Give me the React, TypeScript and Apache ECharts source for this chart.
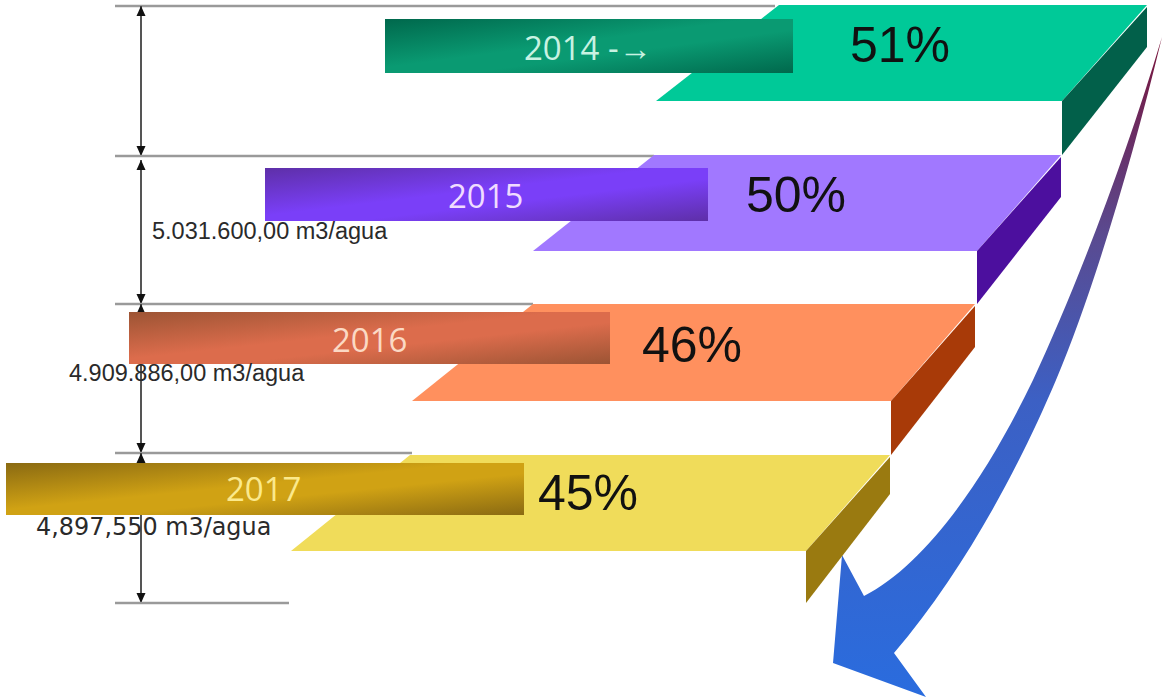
import React, { useEffect, useRef } from "react";
import * as echarts from "echarts";

// ---- chart values ----
const years = ["2014 -→", "2015", "2016", "2017"];
const percents = [51, 50, 46, 45];
const volumes = ["", "5.031.600,00 m3/agua", "4.909.886,00 m3/agua", "4,897,550 m3/agua"];

// ---- layout, in page pixels, resolved through hidden axes ----
const plateTop = [5, 155, 304, 455];
const plateBottom = [101, 251, 401, 551];
const sideLowBack = [47, 197, 347, 494];
const sideLowFront = [155, 304, 455, 603];
const plateRight = [1147, 1061, 975, 890];
const plateFrontRight = [1062, 977, 891, 806];
const plateTopLeft = [779, 654, 533, 410];
const plateBottomLeft = [656, 533, 412, 291];
const barX0 = [385, 265, 129, 6];
const barX1 = [793, 708, 610, 524];
const barY0 = [19, 168, 312, 463];
const barY1 = [73, 221, 364, 515];
const yearX = [524, 448, 332, 226];
const yearY = [47, 195, 339, 488];
const pctX = [850, 746, 642, 538];
const pctY = [45, 195, 345, 493];
const volX = [0, 152, 69, 36];
const volY = [0, 231, 373, 527];
const volFont = ["", "Liberation Sans", "Liberation Sans", "DejaVu Sans"];
const volSize = [0, 23.5, 23.5, 23.9];

const ruleY = [6, 156, 304, 453, 603];
const ruleEnd = [775, 654, 533, 412, 289];
const ruleX0 = 115;
const dimX = 141;
const dimSpans = [[6, 156], [160, 304], [304, 453], [453, 603]];

const topColor = ["#00C998", "#A178FF", "#FF905E", "#F0DC5A"];
const sideColor = ["#02604A", "#4C0F9E", "#A83A08", "#9A7A10"];
const barDark = ["#00684C", "#5E2FA8", "#9C5434", "#8A6A12"];
const barLight = ["#0A9A72", "#7A3FF8", "#DC6C4C", "#D0A214"];
const yearColor = ["#C8F2E2", "#F0DCFF", "#FBD9C4", "#FBE98C"];

// Curved sweep arrow: outer edge, head, inner edge.
const sweepOuter = [[1162, 37], [1130, 170], [1090, 300], [1056, 380], [1020, 465], [965, 570], [894, 653]];
const sweepHead = [[926, 697], [833, 663], [842, 555], [864, 596]];
const sweepInner = [[925, 565], [985, 480], [1033, 380], [1075, 290], [1125, 160], [1162, 37]];

echarts.graphic.registerShape(
  "sweepArrow",
  (echarts.graphic as any).extendShape({
    shape: { outer: [], head: [], inner: [] },
    buildPath(ctx: any, shape: any) {
      const { outer, head, inner } = shape;
      if (!outer.length) return;
      ctx.moveTo(outer[0][0], outer[0][1]);
      for (let k = 1; k + 2 < outer.length; k += 3) {
        ctx.bezierCurveTo(outer[k][0], outer[k][1], outer[k + 1][0], outer[k + 1][1], outer[k + 2][0], outer[k + 2][1]);
      }
      for (const p of head) ctx.lineTo(p[0], p[1]);
      for (let k = 0; k + 2 < inner.length; k += 3) {
        ctx.bezierCurveTo(inner[k][0], inner[k][1], inner[k + 1][0], inner[k + 1][1], inner[k + 2][0], inner[k + 2][1]);
      }
      ctx.closePath();
    },
  })
);

function guides(params: any, api: any) {
  const c = (x: number, y: number) => api.coord([x, y]);
  const i = params.dataIndex;
  const children: any[] = [];
  const rule = { stroke: "#9A9A9A", lineWidth: 2.4 };
  if (i < ruleY.length) {
    const a = c(ruleX0, ruleY[i]);
    const b = c(ruleEnd[i], ruleY[i]);
    children.push({ type: "line", shape: { x1: a[0], y1: a[1], x2: b[0], y2: b[1] }, style: rule });
  }
  if (i < dimSpans.length) {
    const [y0, y1] = dimSpans[i];
    const a = c(dimX, y0);
    const b = c(dimX, y1);
    children.push({ type: "line", shape: { x1: a[0], y1: a[1], x2: b[0], y2: b[1] }, style: { stroke: "#555", lineWidth: 2 } });
    children.push({ type: "polygon", shape: { points: [c(dimX, y0), c(dimX - 4.5, y0 + 10), c(dimX + 4.5, y0 + 10)] }, style: { fill: "#111" } });
    children.push({ type: "polygon", shape: { points: [c(dimX, y1), c(dimX - 4.5, y1 - 10), c(dimX + 4.5, y1 - 10)] }, style: { fill: "#111" } });
  }
  return { type: "group", children };
}

function step(params: any, api: any) {
  const c = (x: number, y: number) => api.coord([x, y]);
  const i = params.dataIndex;
  return {
    type: "group",
    children: [
      {
        type: "polygon",
        shape: { points: [c(plateTopLeft[i], plateTop[i]), c(plateRight[i], plateTop[i]), c(plateFrontRight[i], plateBottom[i]), c(plateBottomLeft[i], plateBottom[i])] },
        style: { fill: topColor[i] },
      },
      {
        type: "polygon",
        shape: { points: [c(plateRight[i], plateTop[i] + 2), c(plateRight[i], sideLowBack[i]), c(plateFrontRight[i], sideLowFront[i]), c(plateFrontRight[i], plateBottom[i])] },
        style: { fill: sideColor[i] },
      },
      {
        type: "rect",
        shape: { x: c(barX0[i], 0)[0], y: c(0, barY0[i])[1], width: barX1[i] - barX0[i], height: barY1[i] - barY0[i] },
        style: {
          fill: new echarts.graphic.LinearGradient(0, 0, 1, 1, [
            { offset: 0, color: barDark[i] },
            { offset: 0.45, color: barLight[i] },
            { offset: 0.6, color: barLight[i] },
            { offset: 1, color: barDark[i] },
          ]),
        },
      },
      {
        type: "text",
        style: { text: years[i], x: c(yearX[i], 0)[0], y: c(0, yearY[i])[1], fill: yearColor[i], fontSize: 33, fontFamily: "Open Sans", align: "left", verticalAlign: "middle" },
      },
      {
        type: "text",
        style: { text: percents[i] + "%", x: c(pctX[i], 0)[0], y: c(0, pctY[i])[1], fill: "#111111", fontSize: 50, fontFamily: "Liberation Sans", align: "left", verticalAlign: "middle" },
      },
      ...(volumes[i]
        ? [{
            type: "text",
            style: { text: volumes[i], x: c(volX[i], 0)[0], y: c(0, volY[i])[1], fill: "#2A2A2A", fontSize: volSize[i], fontFamily: volFont[i], align: "left", verticalAlign: "middle" },
          }]
        : []),
    ],
  };
}

function sweep(_params: any, api: any) {
  return {
    type: "sweepArrow",
    shape: {
      outer: sweepOuter.map((p) => api.coord(p)),
      head: sweepHead.map((p) => api.coord(p)),
      inner: sweepInner.map((p) => api.coord(p)),
    },
    style: {
      fill: new echarts.graphic.LinearGradient(0, 0, 0, 1, [
        { offset: 0, color: "#7A1238" },
        { offset: 0.3, color: "#5A4A90" },
        { offset: 0.55, color: "#3C60C4" },
        { offset: 1, color: "#2A6CDE" },
      ]),
    },
  };
}

export default function App() {
  const ref = useRef<HTMLDivElement>(null);
  useEffect(() => {
    const chart = echarts.init(ref.current!, undefined, { renderer: "svg" });
    chart.setOption({
      animation: false,
      backgroundColor: "#FFFFFF",
      grid: { left: 0, right: 0, top: 0, bottom: 0 },
      xAxis: { type: "value", min: 0, max: 1163, show: false },
      yAxis: { type: "value", min: 0, max: 700, inverse: true, show: false },
      series: [
        { type: "custom", silent: true, clip: false, data: ruleY, renderItem: guides },
        { type: "custom", silent: true, clip: false, data: [0], renderItem: sweep },
        { type: "custom", silent: true, clip: false, data: percents, renderItem: step },
      ],
    });
    return () => chart.dispose();
  }, []);
  return <div ref={ref} style={{ position: "fixed", left: 0, top: 0, width: 1163, height: 700 }} />;
}
